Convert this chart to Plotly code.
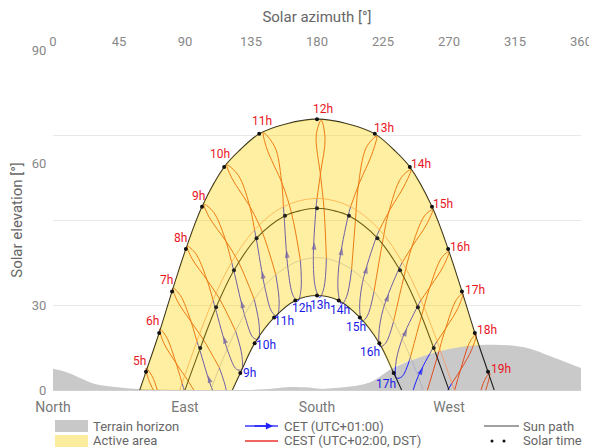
import plotly.graph_objects as go

# ---------------- DATA (azimuth / elevation in degrees) ----------------
HOUR_LABELS = ["5h", "6h", "7h", "8h", "9h", "10h", "11h", "12h", "13h", "14h",
               "15h", "16h", "17h", "18h", "19h"]

# sun paths
SUMMER_AZ = [59.2, 63.4, 72.4, 81.2, 90.6, 101.6, 116.7, 127.7, 140.6, 159.5, 180.0,
             200.5, 219.4, 232.3, 243.3, 258.4, 269.4, 278.8, 287.6, 296.6, 300.8]
SUMMER_EL = [0.0, 4.8, 15.1, 26.1, 37.3, 48.5, 59.0, 63.6, 67.8, 70.5, 71.7,
             70.5, 67.8, 63.6, 59.0, 48.5, 37.3, 26.1, 15.1, 4.8, 0.0]
EQUINOX_AZ = [90.0, 100.4, 111.2, 123.4, 138.8, 158.2, 168.9, 180.0, 191.1, 201.8,
              221.2, 236.6, 248.8, 259.6, 270.0]
EQUINOX_EL = [0.0, 11.1, 21.9, 31.7, 40.2, 46.1, 47.5, 48.1, 47.5, 46.1,
              40.2, 31.7, 21.9, 11.1, 0.0]
WINTER_AZ = [122.3, 127.7, 137.5, 150.8, 165.2, 180.0, 194.8, 209.2, 222.5, 232.3, 237.7]
WINTER_EL = [0.0, 4.5, 12.4, 19.2, 23.7, 25.0, 23.7, 19.2, 12.4, 4.5, 0.0]

# solar time dots
SUMMER_DOT_AZ = [63.4, 72.4, 81.2, 90.6, 101.6, 116.7, 140.6, 180.0, 219.4, 243.3,
                 258.4, 269.4, 278.8, 287.6, 296.6]
SUMMER_DOT_EL = [4.8, 15.1, 26.1, 37.3, 48.5, 59.0, 67.8, 71.7, 67.8, 59.0,
                 48.5, 37.3, 26.1, 15.1, 4.8]
EQUINOX_DOT_AZ = [100.4, 111.2, 123.4, 138.8, 158.2, 180.0, 201.8, 221.2, 236.6, 248.8, 259.6]
EQUINOX_DOT_EL = [11.1, 21.9, 31.7, 40.2, 46.1, 48.1, 46.1, 40.2, 31.7, 21.9, 11.1]
WINTER_DOT_AZ = [127.7, 137.5, 150.8, 165.2, 180.0, 194.8, 209.2, 222.5, 232.3]
WINTER_DOT_EL = [4.5, 12.4, 19.2, 23.7, 25.0, 23.7, 19.2, 12.4, 4.5]
WINTER_LABELS = ["9h", "10h", "11h", "12h", "13h", "14h", "15h", "16h", "17h"]

# analemma points, one value per hour line (5h .. 19h), per date
MAR27_AZ = [77.8, 88.0, 98.1, 109.1, 121.8, 137.4, 157.1, 180.0, 202.9, 222.6, 238.2, 250.9, 261.9, 272.0, 282.2]
MAR27_EL = [-9.2, 1.8, 12.9, 23.8, 33.8, 42.4, 48.5, 50.7, 48.5, 42.4, 33.8, 23.8, 12.9, 1.8, -9.2]
APR15_AZ = [73.6, 83.5, 93.5, 104.4, 117.2, 133.7, 155.7, 182.6, 208.9, 229.7, 245.4, 257.8, 268.4, 278.3, 288.4]
APR15_EL = [-3.3, 7.6, 18.8, 29.8, 40.2, 49.3, 55.7, 57.9, 54.8, 47.7, 38.3, 27.7, 16.7, 5.6, -5.3]
MAY14_AZ = [67.9, 77.4, 86.9, 97.3, 109.6, 126.4, 151.4, 185.5, 217.4, 239.4, 254.5, 266.1, 276.0, 285.5, 295.2]
MAY14_EL = [3.4, 14.0, 25.0, 36.1, 47.0, 56.8, 64.2, 66.5, 62.4, 54.0, 43.7, 32.7, 21.6, 10.7, 0.2]
JUN21_AZ = [63.5, 72.8, 81.8, 91.5, 102.9, 118.5, 143.5, 182.9, 220.7, 244.0, 258.8, 269.9, 279.4, 288.5, 297.8]
JUN21_EL = [5.8, 16.2, 27.0, 38.1, 49.2, 59.6, 68.1, 71.4, 67.2, 58.3, 47.7, 36.6, 25.5, 14.7, 4.5]
JUL26_AZ = [65.6, 75.1, 84.6, 94.6, 106.4, 122.1, 145.6, 179.5, 213.6, 237.4, 253.3, 265.1, 275.2, 284.6, 294.2]
JUL26_EL = [2.3, 12.8, 23.7, 34.9, 45.8, 56.0, 64.1, 67.5, 64.2, 56.2, 46.1, 35.1, 24.0, 13.0, 2.5]
AUG31_AZ = [74.6, 84.6, 94.6, 105.6, 118.4, 134.9, 156.5, 182.5, 208.0, 228.6, 244.2, 256.6, 267.3, 277.3, 287.4]
AUG31_EL = [-4.2, 6.7, 17.8, 28.8, 39.1, 48.1, 54.4, 56.5, 53.5, 46.6, 37.3, 26.8, 15.8, 4.6, -6.2]
SEP22_AZ = [82.0, 92.1, 102.4, 113.7, 126.8, 142.9, 162.7, 184.8, 206.2, 224.4, 239.1, 251.3, 262.0, 272.1, 282.4]
SEP22_EL = [-8.7, 2.4, 13.4, 24.0, 33.6, 41.6, 46.7, 47.9, 44.9, 38.5, 29.7, 19.6, 8.7, -2.4, -13.4]
OCT27_AZ = [None, 103.3, 113.4, 124.5, 137.2, 151.9, 168.7, 186.4, 203.6, 218.9, 232.2, 243.7, 254.0, 263.8, None]
OCT27_EL = [None, -4.7, 5.9, 15.6, 24.0, 30.5, 34.3, 34.8, 31.9, 26.1, 18.1, 8.7, -1.7, -12.6, None]
NOV25_AZ = [None, None, 118.2, 128.8, 140.6, 154.2, 169.1, 184.8, 200.2, 214.3, 226.8, 237.9, 247.8, None, None]
NOV25_EL = [None, None, -0.2, 9.1, 17.0, 23.0, 26.6, 27.2, 24.7, 19.6, 12.4, 3.5, -6.4, None, None]
DEC21_AZ = [None, None, 118.4, 128.5, 139.9, 152.7, 166.9, 181.9, 196.8, 210.7, 223.1, 234.2, 244.1, None, None]
DEC21_EL = [None, None, -3.9, 5.4, 13.4, 19.6, 23.5, 24.5, 22.7, 18.2, 11.5, 3.2, -6.4, None, None]
JAN15_AZ = [None, None, 115.0, 125.1, 136.4, 149.2, 163.6, 179.1, 194.6, 209.1, 222.2, 233.6, 243.9, None, None]
JAN15_EL = [None, None, -4.2, 5.5, 13.9, 20.7, 25.1, 26.8, 25.5, 21.3, 14.8, 6.5, -3.0, None, None]
FEB11_AZ = [None, 99.1, 108.9, 119.4, 131.1, 144.7, 160.3, 177.5, 194.9, 211.0, 225.2, 237.4, 248.2, 258.1, None]
FEB11_EL = [None, -10.9, -0.1, 10.1, 19.2, 26.7, 31.8, 34.0, 32.8, 28.4, 21.5, 12.8, 2.9, -7.8, None]
MAR21_AZ = [79.5, 89.7, 99.9, 110.8, 123.4, 138.7, 157.6, 179.3, 201.2, 220.3, 235.8, 248.5, 259.5, 269.7, 279.9]
MAR21_EL = [-11.4, -0.3, 10.8, 21.5, 31.4, 39.8, 45.8, 48.0, 46.0, 40.3, 32.0, 22.1, 11.4, 0.3, -10.8]

# arrow heads on the CET (winter) branches, hour lines 7h .. 17h
ARROW_AZ = [105.6, 116.2, 128.3, 142.5, 159.3, 178.2, 197.2, 214.4, 229.1, 241.5, 252.4]
ARROW_EL = [3.9, 14.3, 23.7, 31.5, 37.0, 39.2, 37.7, 32.8, 25.4, 16.2, 6.0]

# terrain horizon
TERRAIN_AZ = [0, 8.2, 18.4, 28.6, 42.3, 55.9, 73, 100, 141, 161.6, 171.8, 182, 192.3,
              202.5, 209.3, 218.2, 231.8, 250.2, 270.7, 291.1, 320.4, 340.9, 360]
TERRAIN_EL = [5.6, 4.8, 3.2, 1.6, 0.8, 0.3, 0.1, 0.0, 0.1, 0.8, 0.7, 0.3, 0.5,
              0.9, 1.3, 2.4, 5.8, 8.7, 10.9, 11.9, 11.4, 8.7, 5.8]
# where winter / summer paths meet the terrain
BAND_CUT_AZ = [231.5, 290.5]
BAND_CUT_EL = [5.2, 11.8]

TOP_TICKS = [0, 45, 90, 135, 180, 225, 270, 315, 360]
COMPASS_VALS = [0, 90, 180, 270, 360]
COMPASS_TEXT = ["North", "East", "South", "West", "North"]
Y_TICK_VALS = [0, 22.5, 60, 90]
Y_TICK_TEXT = ["0", "30", "60", "90"]
GRID_VALS = [22.5, 45, 67.5, 90]

# ---------------- STYLE ----------------
RED = "#e24a1c"
BLUE = "#1e1eff"
PATH = "#1e1e1e"
YELLOW_OVER = "rgba(255,212,0,0.36)"
TERRAIN = "#c9c9c9"
FONT = "Roboto, Arial, sans-serif"
# label offsets (pixels) from their dots
RED_DX = [-6, -7, -6, -5, -4, -4, 3, 6, 9, 11, 11, 12, 13, 12, 13]
RED_DY = [11, 12, 11, 11, 11, 13, 13, 10, 6, 3, 3, 2, 1, 3, 3]
BLUE_DX = [9, 11, 10, 7, 3, 1, -4, -9, -8]
BLUE_DY = [0, -2, -4, -8, -9, -10, -10, -9, -11]

fig = go.Figure()


def add_line(x, y, color, width=1.0, shape="spline"):
    fig.add_trace(go.Scatter(x=x, y=y, mode="lines", hoverinfo="skip",
                             line=dict(color=color, width=width, shape=shape, smoothing=1.0),
                             showlegend=False))


# terrain
fig.add_trace(go.Scatter(x=TERRAIN_AZ, y=TERRAIN_EL, mode="lines", fill="tozeroy",
                         fillcolor=TERRAIN, line=dict(width=0, shape="spline", color=TERRAIN),
                         hoverinfo="skip", showlegend=False))

RED_DATES = [(MAR27_AZ, MAR27_EL), (APR15_AZ, APR15_EL), (MAY14_AZ, MAY14_EL),
             (JUN21_AZ, JUN21_EL), (JUL26_AZ, JUL26_EL), (AUG31_AZ, AUG31_EL),
             (SEP22_AZ, SEP22_EL), (OCT27_AZ, OCT27_EL)]
BLUE_DATES = [(OCT27_AZ, OCT27_EL), (NOV25_AZ, NOV25_EL), (DEC21_AZ, DEC21_EL),
              (JAN15_AZ, JAN15_EL), (FEB11_AZ, FEB11_EL), (MAR21_AZ, MAR21_EL),
              (MAR27_AZ, MAR27_EL)]

for i in range(len(HOUR_LABELS)):
    for dates, col in ((BLUE_DATES, BLUE), (RED_DATES, RED)):
        xs = [a[i] for a, e in dates if a[i] is not None]
        ys = [e[i] for a, e in dates if a[i] is not None]
        if len(xs) > 1:
            add_line(xs, ys, col, 1.0)

# arrows
for j in range(len(ARROW_AZ)):
    i = j + 2
    fig.add_trace(go.Scatter(x=[FEB11_AZ[i], ARROW_AZ[j]], y=[FEB11_EL[i], ARROW_EL[j]],
                             mode="markers", hoverinfo="skip", showlegend=False,
                             marker=dict(symbol="arrow", angleref="previous", size=[0, 8],
                                         color=BLUE, line=dict(width=0))))

# DST switch arcs
add_line(MAR27_AZ, MAR27_EL, "rgba(255,140,90,0.7)", 1.0)
add_line([a for a in OCT27_AZ if a is not None], [e for e in OCT27_EL if e is not None],
         "rgba(150,150,200,0.5)", 1.0)

# sun paths
add_line(SUMMER_AZ, SUMMER_EL, PATH, 1.1)
add_line(EQUINOX_AZ, EQUINOX_EL, PATH, 1.1)
add_line(WINTER_AZ, WINTER_EL, PATH, 1.1)

# active area (translucent yellow over the lines), excluding terrain
mid_t = [k for k, a in enumerate(TERRAIN_AZ) if BAND_CUT_AZ[0] < a < BAND_CUT_AZ[1]]
low_az = WINTER_AZ[:-2] + [BAND_CUT_AZ[0]] + [TERRAIN_AZ[k] for k in mid_t] + [BAND_CUT_AZ[1]]
low_el = WINTER_EL[:-2] + [BAND_CUT_EL[0]] + [TERRAIN_EL[k] for k in mid_t] + [BAND_CUT_EL[1]]
up_az = SUMMER_AZ[:-2] + [BAND_CUT_AZ[1]]
up_el = SUMMER_EL[:-2] + [BAND_CUT_EL[1]]
fig.add_trace(go.Scatter(x=low_az, y=low_el, mode="lines", hoverinfo="skip", showlegend=False,
                         line=dict(width=0, shape="spline", color="rgba(0,0,0,0)")))
fig.add_trace(go.Scatter(x=up_az, y=up_el, mode="lines", hoverinfo="skip", showlegend=False,
                         fill="tonexty", fillcolor=YELLOW_OVER,
                         line=dict(width=0, shape="spline", color="rgba(0,0,0,0)")))

# dots
fig.add_trace(go.Scatter(x=EQUINOX_DOT_AZ, y=EQUINOX_DOT_EL, mode="markers", hoverinfo="skip",
                         showlegend=False, marker=dict(size=4, color="#222")))
fig.add_trace(go.Scatter(x=SUMMER_DOT_AZ, y=SUMMER_DOT_EL, mode="markers", hoverinfo="skip",
                         showlegend=False, marker=dict(size=4, color="#111")))
fig.add_trace(go.Scatter(x=WINTER_DOT_AZ, y=WINTER_DOT_EL, mode="markers", hoverinfo="skip",
                         showlegend=False, marker=dict(size=4, color="#111")))

# hour labels
for t, a, e, dx, dy in zip(HOUR_LABELS, SUMMER_DOT_AZ, SUMMER_DOT_EL, RED_DX, RED_DY):
    fig.add_annotation(x=a, y=e, text=t, showarrow=False, xshift=dx, yshift=dy,
                       font=dict(color="#e8141e", size=12, family=FONT))
for t, a, e, dx, dy in zip(WINTER_LABELS, WINTER_DOT_AZ, WINTER_DOT_EL, BLUE_DX, BLUE_DY):
    fig.add_annotation(x=a, y=e, text=t, showarrow=False, xshift=dx, yshift=dy,
                       font=dict(color="#1a1ae6", size=12, family=FONT))

# dummy trace to activate the top axis
fig.add_trace(go.Scatter(x=TOP_TICKS, y=[None] * len(TOP_TICKS), xaxis="x2", mode="markers",
                         hoverinfo="skip", showlegend=False))

# ---------------- LAYOUT ----------------
# the page has an 8px body margin; the plot area should sit at x 53..581, y 50..390
OFF = 8
W, H = 597 - OFF, 448 - OFF
ML, MR, MT, MB = 53 - OFF, 16, 50 - OFF, 58


def xp(p):
    return (p - 53) / 528.0


def yp(p):
    return (390 - p) / 340.0


fig.update_layout(
    width=W, height=H, margin=dict(l=ML, r=MR, t=MT, b=MB, autoexpand=False),
    paper_bgcolor="white", plot_bgcolor="white", showlegend=False,
    font=dict(family=FONT, color="#777", size=13),
    xaxis=dict(range=[0, 360], tickvals=COMPASS_VALS, ticktext=COMPASS_TEXT, showgrid=False,
               zeroline=False, showline=True, linecolor="#d0d0d0", linewidth=1, automargin=False,
               ticks="outside", ticklen=4, tickcolor="rgba(0,0,0,0)",
               tickfont=dict(size=14, color="#777")),
    xaxis2=dict(range=[0, 360], overlaying="x", side="top", tickvals=TOP_TICKS, automargin=False,
                showgrid=False, zeroline=False, showline=False, ticks="",
                tickfont=dict(size=13, color="#888"),
                title=dict(text="Solar azimuth [°]", font=dict(size=15, color="#666"), standoff=8)),
    yaxis=dict(range=[0, 90], tickvals=Y_TICK_VALS, ticktext=Y_TICK_TEXT, showgrid=False,
               zeroline=False, ticks="outside", ticklen=3, tickcolor="rgba(0,0,0,0)", automargin=False,
               tickfont=dict(size=13, color="#888"),
               minor=dict(tickvals=GRID_VALS, showgrid=True, gridcolor="#e8e8e8", gridwidth=1, ticks=""),
               title=dict(text="Solar elevation [°]", font=dict(size=15, color="#666"), standoff=8)),
)

# manual legend
shapes = [
    dict(type="rect", xref="paper", yref="paper", x0=xp(55), x1=xp(88), y0=yp(432), y1=yp(420),
         fillcolor="#c8c8c8", line=dict(width=0)),
    dict(type="rect", xref="paper", yref="paper", x0=xp(55), x1=xp(88), y0=yp(447), y1=yp(435),
         fillcolor="#fcec9e", line=dict(width=0)),
    dict(type="line", xref="paper", yref="paper", x0=xp(245), x1=xp(278), y0=yp(426), y1=yp(426),
         line=dict(color="#3b3bff", width=1.3)),
    dict(type="line", xref="paper", yref="paper", x0=xp(245), x1=xp(278), y0=yp(441), y1=yp(441),
         line=dict(color="#e8332a", width=1.3)),
    dict(type="line", xref="paper", yref="paper", x0=xp(484), x1=xp(519), y0=yp(426), y1=yp(426),
         line=dict(color="#444", width=1.2)),
    dict(type="circle", xref="paper", yref="paper", x0=xp(490.5), x1=xp(493.5), y0=yp(442.5), y1=yp(439.5),
         fillcolor="#111", line=dict(width=0)),
    dict(type="circle", xref="paper", yref="paper", x0=xp(502.5), x1=xp(505.5), y0=yp(442.5), y1=yp(439.5),
         fillcolor="#111", line=dict(width=0)),
]
fig.update_layout(shapes=shapes)

legend_text = [("Terrain horizon", 91, 426), ("Active area", 91, 441),
               ("CET (UTC+01:00)", 282, 426), ("CEST (UTC+02:00, DST)", 282, 441),
               ("Sun path", 521, 426), ("Solar time", 521, 441)]
for t, x, y in legend_text:
    fig.add_annotation(text=t, x=xp(x), y=yp(y), xref="paper", yref="paper", showarrow=False,
                       xanchor="left", yanchor="middle", font=dict(size=13, color="#666", family=FONT))
fig.add_annotation(x=xp(273), y=yp(426), xref="paper", yref="paper", text="", showarrow=True,
                   ax=-20, ay=0, axref="pixel", ayref="pixel", arrowhead=2, arrowsize=1.1,
                   arrowwidth=1.3, arrowcolor="#2020ff")

fig.write_html("out.html")
